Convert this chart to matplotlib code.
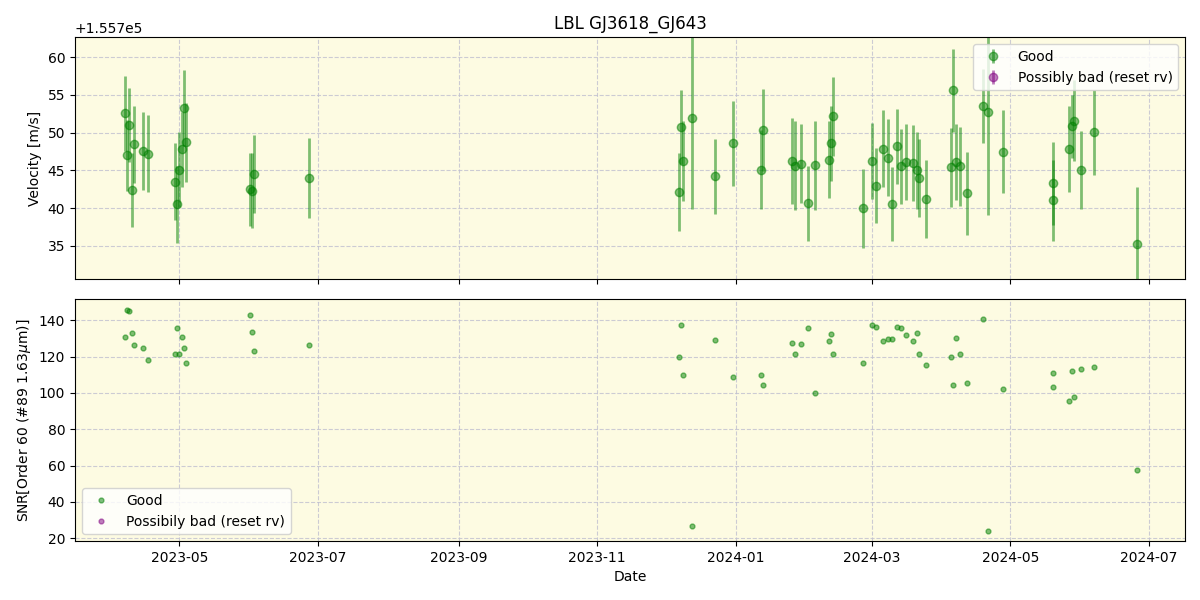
import matplotlib
matplotlib.use("Agg")
import matplotlib.pyplot as plt
import matplotlib.dates as mdates
import numpy as np
import pandas as pd

# observation dates (one entry per point)
dates = [
    "2023-04-07", "2023-04-08", "2023-04-09", "2023-04-10", "2023-04-11",
    "2023-04-15", "2023-04-17", "2023-04-29", "2023-04-30", "2023-05-01",
    "2023-05-02", "2023-05-03", "2023-05-04", "2023-06-01", "2023-06-02",
    "2023-06-03", "2023-06-27",
    "2023-12-07", "2023-12-08", "2023-12-09", "2023-12-13", "2023-12-23",
    "2023-12-31", "2024-01-12", "2024-01-13", "2024-01-26", "2024-01-27",
    "2024-01-30", "2024-02-02", "2024-02-05", "2024-02-11", "2024-02-12",
    "2024-02-13", "2024-02-26", "2024-03-01", "2024-03-03", "2024-03-06",
    "2024-03-08", "2024-03-10", "2024-03-12", "2024-03-14", "2024-03-16",
    "2024-03-19", "2024-03-21", "2024-03-22", "2024-03-25", "2024-04-05",
    "2024-04-06", "2024-04-07", "2024-04-09", "2024-04-12", "2024-04-19",
    "2024-04-21", "2024-04-28", "2024-05-20", "2024-05-20", "2024-05-27",
    "2024-05-28", "2024-05-29", "2024-06-01", "2024-06-07", "2024-06-26",
]

# velocity minus 155700 m/s
vel_rel = [
    52.55, 47.0, 51.0, 42.4, 48.5, 47.6, 47.2, 43.5, 40.5, 45.1,
    47.8, 53.25, 48.75, 42.5, 42.3, 44.5, 44.0,
    42.1, 50.7, 46.3, 51.9, 44.2, 48.6, 45.1, 50.4, 46.25, 45.6,
    45.9, 40.65, 45.7, 46.4, 48.6, 52.15, 40.0, 46.25, 43.0, 47.9,
    46.7, 40.5, 48.2, 45.55, 46.1, 46.0, 45.05, 44.0, 41.2, 45.4,
    55.6, 46.1, 45.55, 42.0, 53.5, 52.7, 47.5, 43.3, 41.05, 47.8,
    50.85, 51.6, 45.05, 50.05, 35.3,
]

vel_err = [
    5.0, 4.7, 4.9, 4.85, 5.1, 5.2, 5.1, 5.1, 5.05, 5.0,
    5.0, 5.05, 5.25, 4.85, 4.95, 5.2, 5.25,
    5.15, 4.9, 5.3, 12.0, 5.0, 5.6, 5.2, 5.45, 5.7, 5.9,
    5.25, 5.0, 5.9, 5.1, 5.0, 5.2, 5.25, 5.0, 5.0, 5.15,
    5.1, 4.9, 5.0, 5.0, 5.0, 5.0, 5.1, 5.15, 5.15, 5.2,
    5.5, 5.0, 5.25, 5.5, 4.9, 13.6, 5.5, 5.5, 5.4, 5.7,
    4.2, 5.4, 5.2, 5.6, 7.5,
]

snr = [
    130.6, 145.5, 145.0, 132.8, 126.6, 124.6, 118.4, 121.7, 136.0, 121.7,
    130.6, 124.6, 116.2, 143.1, 133.4, 123.3, 126.6,
    120.0, 137.6, 110.1, 26.5, 129.4, 109.0, 110.1, 104.6, 127.7, 121.7,
    127.2, 136.0, 100.2, 128.8, 132.7, 121.7, 116.7, 137.6, 136.5, 128.8,
    129.9, 129.9, 136.5, 136.0, 132.1, 128.8, 133.2, 121.7, 115.6, 120.0,
    104.6, 130.5, 121.7, 105.7, 140.9, 23.7, 102.4, 110.7, 103.5, 95.3,
    112.3, 98.0, 113.4, 114.0, 57.8,
]

t = pd.to_datetime(dates)
vel = 155700 + np.array(vel_rel)

fig, (ax1, ax2) = plt.subplots(2, 1, figsize=(12, 6), dpi=100, sharex=True)
fig.subplots_adjust(left=0.0625, right=0.9875, top=0.938, bottom=0.098, hspace=0.083)

bg = "#fdfbe2"
gridc = "#c0c0d0"

ax1.errorbar(t, vel, yerr=vel_err, fmt="o", color="green", alpha=0.5,
             markersize=6, elinewidth=2, label="Good")
ax1.errorbar([], [], yerr=[], fmt="o", color="purple", alpha=0.5,
             markersize=6, elinewidth=2, label="Possibly bad (reset rv)")
ax1.set_facecolor(bg)
ax1.grid(True, linestyle="--", color=gridc, alpha=0.8)
ax1.set_ylabel("Velocity [m/s]")
ax1.set_title("LBL GJ3618_GJ643")
ax1.set_ylim(155730.6, 155762.65)
ax1.legend(loc="upper right")

ax2.plot(t, snr, "o", color="green", alpha=0.5, markersize=3.5, label="Good")
ax2.plot([], [], "o", color="purple", alpha=0.5, markersize=3.5,
         label="Possibily bad (reset rv)")
ax2.set_facecolor(bg)
ax2.grid(True, linestyle="--", color=gridc, alpha=0.8)
ax2.set_ylabel("SNR[Order 60 (#89 1.63$\\mu$m)]")
ax2.set_xlabel("Date")
ax2.set_ylim(18.3, 151.6)
ax2.legend(loc="lower left")

ax2.set_xlim(pd.Timestamp("2023-03-16"), pd.Timestamp("2024-07-17"))
ax2.xaxis.set_major_locator(mdates.MonthLocator(bymonth=[1, 3, 5, 7, 9, 11]))
ax2.xaxis.set_major_formatter(mdates.DateFormatter("%Y-%m"))

fig.savefig("out.png")
